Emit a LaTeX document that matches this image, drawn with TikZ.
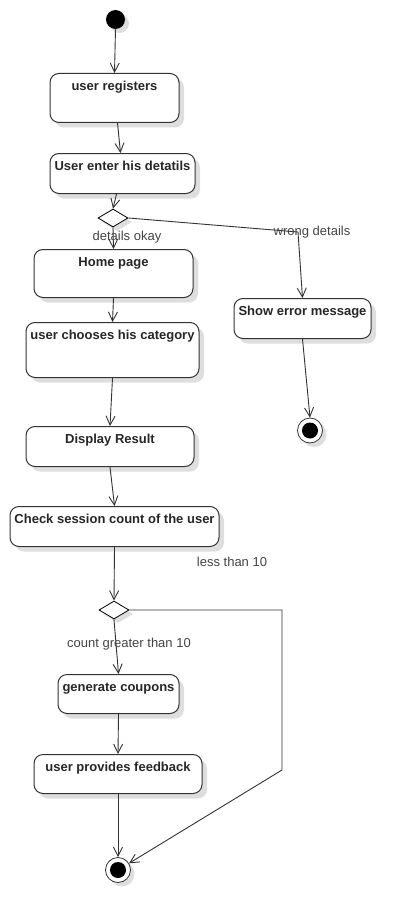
\documentclass[tikz,border=0pt]{standalone}
\usepackage{fontspec}
\setmainfont{Liberation Sans}
\usetikzlibrary{arrows.meta,shapes.geometric,shadows}
\definecolor{linegray}{HTML}{333333}
\definecolor{labelgray}{HTML}{444444}

\begin{document}
\begin{tikzpicture}[x=1pt,y=-1pt,
    act/.style 2 args={draw=linegray, line width=1pt, rounded corners=9pt, fill=white,
      drop shadow={shadow xshift=5pt, shadow yshift=-5pt, opacity=0.13, fill=black},
      anchor=north, align=center, inner xsep=2pt, inner ysep=7pt,
      minimum width=#1, text height=10pt, text depth=#2,
      font=\bfseries\fontsize{13}{15}\selectfont, text=black!85},
    decision/.style={diamond, draw=black, line width=0.8pt, fill=white, inner sep=0pt,
      minimum width=30pt, minimum height=18pt,
      drop shadow={shadow xshift=4pt, shadow yshift=-4pt, opacity=0.13, fill=black}},
    startnode/.style={circle, fill=black, minimum size=19pt, inner sep=0pt,
      drop shadow={shadow xshift=4pt, shadow yshift=-4pt, opacity=0.13, fill=black}},
    endnode/.style={circle, draw=linegray, line width=0.8pt, fill=white, minimum size=25pt, inner sep=0pt,
      drop shadow={shadow xshift=4pt, shadow yshift=-4pt, opacity=0.13, fill=black},
      path picture={\fill[black] (path picture bounding box.center) circle (8pt);}},
    flow/.style={draw=linegray, line width=0.9pt, -{Straight Barb[length=9pt,width=9pt]}},
    guard/.style={font=\fontsize{13}{15}\selectfont, text=labelgray, inner sep=0pt}]

  \useasboundingbox (0,0) rectangle (410,923);

  % states
  \node[startnode] (start) at (115.5,19.5) {};
  \node[act={129pt}{25pt}] (reg) at (114.5,73) {user registers};
  \node[act={145pt}{16pt}] (enter) at (122.5,153) {User enter his detatils};
  \node[decision] (d1) at (113,218) {};
  \node[act={159pt}{24pt}] (home) at (113.5,249) {Home page};
  \node[act={137pt}{16pt}] (err) at (302.5,298) {Show error message};
  \node[endnode] (end1) at (310,430.5) {};
  \node[act={173pt}{31pt}] (choose) at (112.5,322) {user chooses his category};
  \node[act={168pt}{16pt}] (disp) at (110,426) {Display Result};
  \node[act={209pt}{16pt}] (check) at (114.5,506) {Check session count of the user};
  \node[decision] (d2) at (114,610) {};
  \node[act={121pt}{15pt}] (gen) at (118.5,674) {generate coupons};
  \node[act={168pt}{15pt}] (feed) at (118,754) {user provides feedback};
  \node[endnode] (end2) at (118,870) {};

  % bends
  \coordinate (wbend) at (298,232);
  \coordinate (lbend1) at (282,610);
  \coordinate (lbend2) at (282,770);

  % transitions
  \draw[flow] (start.south) -- (reg.north);
  \draw[flow] ([xshift=3pt]reg.south) -- ([xshift=-2pt]enter.north);
  \draw[flow] ([xshift=-6pt]enter.south) -- (d1.north);
  \draw[flow] (d1.south) -- (home.north);
  \draw[flow] (d1.east) -- (wbend) -- (err.north);
  \draw[flow] (err.south) -- (end1.north);
  \draw[flow] (home.south) -- (choose.north);
  \draw[flow] (choose.south) -- (disp.north);
  \draw[flow] (disp.south) -- (check.north);
  \draw[flow] (check.south) -- (d2.north);
  \draw[flow] (d2.south) -- (gen.north);
  \draw[flow] (gen.south) -- (feed.north);
  \draw[flow] (feed.south) -- (end2.north);
  \draw[flow] (d2.east) -- (lbend1) -- (lbend2) -- (end2);

  % guards
  \node[guard] (okay) at (127,237) {details okay};
  \node[guard] (wrong) at (312,232) {wrong details};
  \node[guard] (less) at (232,562) {less than 10};
  \node[guard] (greater) at (129,644) {count greater than 10};
\end{tikzpicture}
\end{document}
